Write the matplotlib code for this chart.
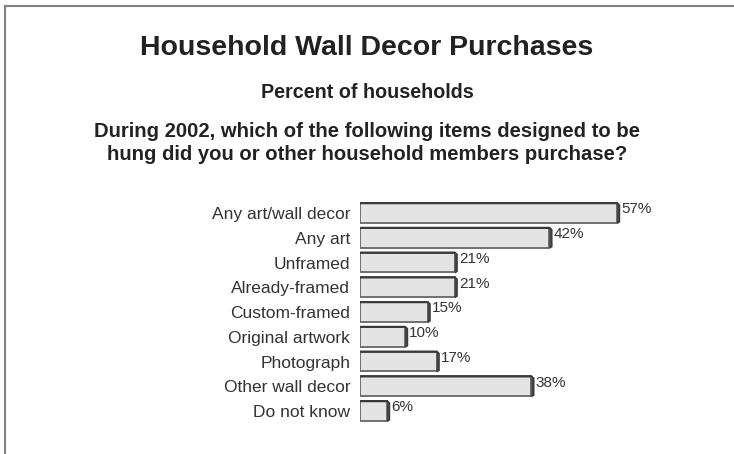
import numpy as np
import matplotlib
matplotlib.use("Agg")
import matplotlib.pyplot as plt
from matplotlib.patches import Polygon

# chart data
categories = ["Any art/wall decor", "Any art", "Unframed", "Already-framed",
              "Custom-framed", "Original artwork", "Photograph",
              "Other wall decor", "Do not know"]
values = [57, 42, 21, 21, 15, 10, 17, 38, 6]

title = "Household Wall Decor Purchases"
subtitle = "Percent of households"
question = ("During 2002, which of the following items designed to be\n"
            "hung did you or other household members purchase?")

plt.rcParams['font.family'] = ['Liberation Sans', 'DejaVu Sans']

fig = plt.figure(figsize=(7.34, 4.54), dpi=100)

# frame line on top and left
fig.add_artist(plt.Line2D([5 / 734, 5 / 734], [0, 1 - 6 / 454],
                          transform=fig.transFigure, color='#808080', lw=1.5))
fig.add_artist(plt.Line2D([5 / 734, 1], [1 - 6 / 454, 1 - 6 / 454],
                          transform=fig.transFigure, color='#808080', lw=1.5))

fig.text(0.5, 1 - 48 / 454, title, ha='center', va='center',
         fontsize=20.5, fontweight='bold', color='#222222')
fig.text(0.5, 1 - 93 / 454, subtitle, ha='center', va='center',
         fontsize=14.2, fontweight='bold', color='#222222')
fig.text(0.5, 1 - 143 / 454, question, ha='center', va='center',
         fontsize=14.6, fontweight='bold', color='#222222', linespacing=1.32)

ax = fig.add_axes([360 / 734, 0.0674, (700 - 360) / 734, 0.558 - 0.0674])
y = np.arange(len(categories))
h = 0.8
ax.barh(y, values, height=h, color='#e4e4e4', edgecolor='#666666',
        linewidth=1.3, zorder=2)

# 3D depth: dark strip along the top and right side of each bar
d = 0.45
for yi, v in zip(y, values):
    top = yi - h / 2
    bot = yi + h / 2
    ax.add_patch(Polygon([(0, top), (v, top), (v + d, top + 0.08),
                          (v + d, bot - 0.05), (v, bot)], closed=False,
                         facecolor='none', edgecolor='#3a3a3a', lw=1.6,
                         zorder=3))
    ax.add_patch(Polygon([(v, top), (v + d, top + 0.08), (v + d, bot - 0.05),
                          (v, bot)], closed=True, facecolor='#444444',
                         edgecolor='none', zorder=3))
    ax.text(v + 0.9, yi - 0.15, f"{v}%", ha='left', va='center',
            fontsize=11, color='#333333')

ax.set_xlim(0, (700 - 360) / 4.51)
ax.set_ylim(len(categories) - 0.5, -0.5)
ax.set_yticks(y)
ax.set_yticklabels(categories, fontsize=12.5, color='#333333')
ax.tick_params(axis='y', length=0, pad=7)
ax.set_xticks([])
for s in ax.spines.values():
    s.set_visible(False)

fig.savefig("out.png", dpi=100)
